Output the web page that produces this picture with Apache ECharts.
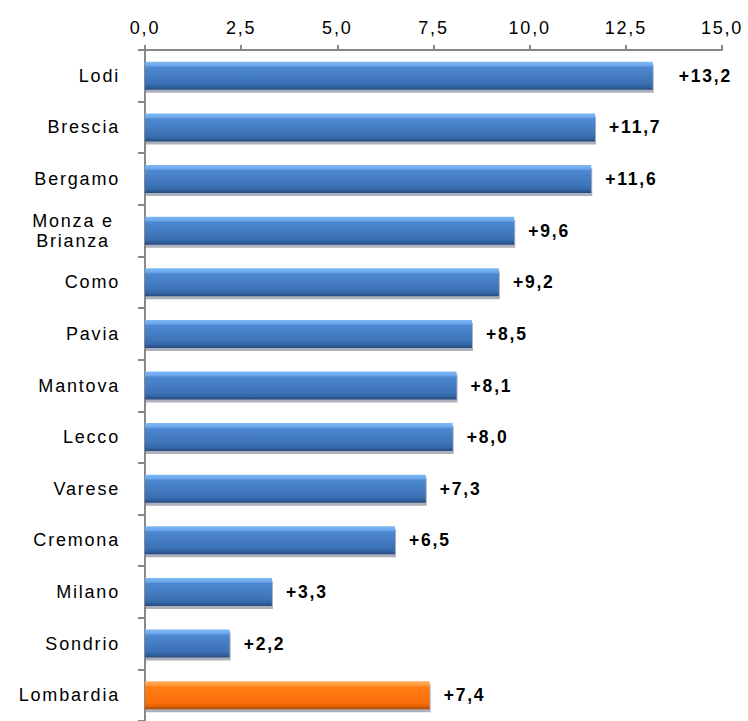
<!DOCTYPE html>
<html>
<head>
<meta charset="utf-8">
<script src="https://cdn.jsdelivr.net/npm/echarts@6/dist/echarts.min.js"></script>
<style>
html,body{margin:0;padding:0;background:#fff}
#c{width:748px;height:721px}
#c svg text{letter-spacing:1.8px}
</style>
</head>
<body>
<div id="c"></div>
<script>
var categories = ["Lodi","Brescia","Bergamo","Monza e\nBrianza","Como","Pavia","Mantova","Lecco","Varese","Cremona","Milano","Sondrio","Lombardia"];
var values = [13.2,11.7,11.6,9.6,9.2,8.5,8.1,8.0,7.3,6.5,3.3,2.2,7.4];
var xTicks = [0,2.5,5,7.5,10,12.5,15];

var FONT = 'Liberation Sans, Arial, sans-serif';
var blue = new echarts.graphic.LinearGradient(0,0,0,1,[
  {offset:0,color:'#7fb8f4'},{offset:0.14,color:'#6aa6ec'},{offset:0.2,color:'#4d88d2'},
  {offset:0.75,color:'#3d72b6'},{offset:0.88,color:'#3366a6'},{offset:1,color:'#24497e'}]);
var orange = new echarts.graphic.LinearGradient(0,0,0,1,[
  {offset:0,color:'#ffb060'},{offset:0.14,color:'#ff9a3a'},{offset:0.2,color:'#ff7d14'},
  {offset:0.75,color:'#fb700a'},{offset:0.88,color:'#e86404'},{offset:1,color:'#a84a00'}]);

var data = values.map(function(v,i){
  var last = i === values.length-1;
  var item = {value:v, itemStyle:{color: last ? orange : blue}};
  if (i === 0) item.label = {distance: 26};
  return item;
});

var chart = echarts.init(document.getElementById('c'), null, {renderer:'svg'});
chart.setOption({
  animation:false,
  grid:{left:145, right:26, top:50, bottom:-7, containLabel:false},
  xAxis:{type:'value', position:'top', min:xTicks[0], max:xTicks[xTicks.length-1], interval:2.5,
    axisLine:{show:true, lineStyle:{color:'#888', width:2}},
    axisTick:{show:true, length:5, lineStyle:{color:'#888', width:2}},
    splitLine:{show:false},
    axisLabel:{color:'#000', fontFamily:FONT, fontSize:18, margin:13,
      formatter:function(v){return v.toFixed(1).replace('.',',');}}
  },
  yAxis:{type:'category', inverse:true, data:categories,
    axisLine:{show:true, lineStyle:{color:'#888', width:2}},
    axisTick:{show:true, length:7, lineStyle:{color:'#888', width:2}},
    axisLabel:{color:'#000', fontFamily:FONT, fontSize:18, margin:25, lineHeight:20, align:'right',
      formatter:function(v){
        if (v.indexOf('\n') < 0) return v;
        return v.split('\n').map(function(s){return '{m|'+s+'}';}).join('\n');
      },
      rich:{m:{width:94, align:'center', color:'#000', fontFamily:FONT, fontSize:18, lineHeight:20}}
    }
  },
  series:[{type:'bar', data:data, barWidth:28,
    itemStyle:{shadowColor:'rgba(90,100,120,0.5)', shadowOffsetY:3, shadowOffsetX:1, shadowBlur:0},
    label:{show:true, position:'right', distance:14, color:'#000', fontWeight:'bold',
      fontFamily:FONT, fontSize:17.5,
      formatter:function(p){return '+'+p.value.toFixed(1).replace('.',',');}}
  }]
});
</script>
</body>
</html>
